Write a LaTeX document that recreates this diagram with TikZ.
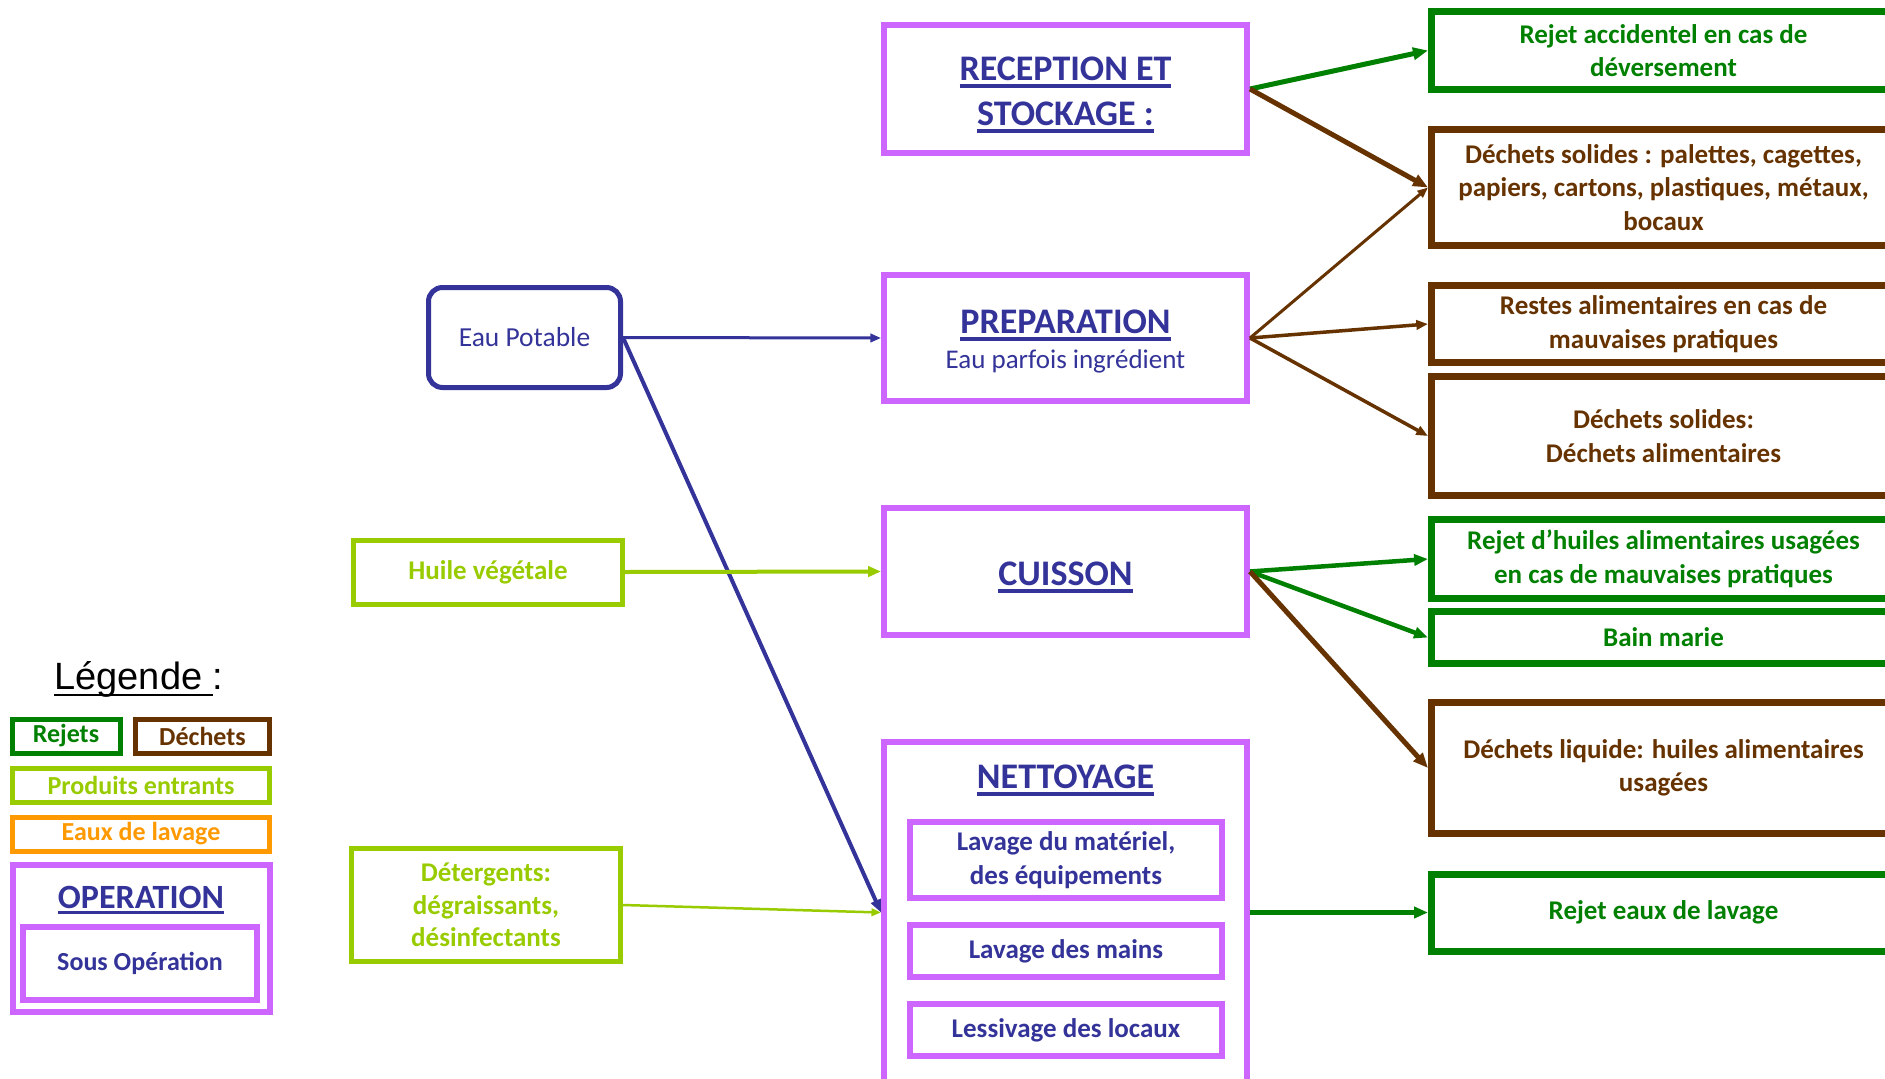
\documentclass[tikz,border=0pt]{standalone}
\usepackage{fontspec}
\setmainfont{Carlito}
\newfontfamily\arialf{Liberation Sans}
\usetikzlibrary{arrows.meta}
\definecolor{opv}{HTML}{CC66FF}
\definecolor{navy}{HTML}{333399}
\definecolor{rejg}{HTML}{008000}
\definecolor{decb}{HTML}{663300}
\definecolor{prodg}{HTML}{99CC00}
\definecolor{eauo}{HTML}{FF9900}
\newsavebox\ulbox
\newcommand\ulin[3]{\sbox\ulbox{#3}\leavevmode\rlap{\rule[-#2]{\wd\ulbox}{#1}}\usebox\ulbox}
\newcommand\fsz[2]{\fontsize{#1}{#2}\selectfont}
\begin{document}
\begin{tikzpicture}[x=1pt,y=-1pt,
  box/.style={draw, rectangle, inner sep=0pt, align=center, font=\bfseries\fsz{27}{33.5}},
  opbox/.style={box, draw=opv, line width=6pt, minimum width=363pt},
  rejbox/.style={box, draw=rejg, text=rejg, line width=7pt, minimum width=464pt},
  decbox/.style={box, draw=decb, text=decb, line width=7pt, minimum width=464pt},
  prodbox/.style={box, draw=prodg, text=prodg, line width=5pt},
  subbox/.style={box, draw=opv, text=navy, line width=6pt, minimum width=312pt},
  lgbox/.style={box, line width=5pt, font=\bfseries\fsz{26}{31}},
  ttl/.style={anchor=base, text=navy, font=\bfseries\fsz{36}{44}, inner sep=0pt},
  arr/.style={-{Triangle[length=4pt 2.2,width=3pt 1.8]}}
]
\path[fill=white] (0,0) rectangle (1885,1079);
\useasboundingbox (0,0) rectangle (1885,1079);

% operations
\node[opbox, minimum height=128pt] (rec) at (1065.5,89) {};
\node[ttl] (rect1) at (1065.5,80) {\ulin{4pt}{8pt}{RECEPTION ET}};
\node[ttl] (rect2) at (1065.5,125) {\ulin{4pt}{8pt}{STOCKAGE :}};

\node[opbox, minimum height=126pt] (prep) at (1065.5,338) {};
\node[ttl] (prept) at (1065.5,333) {\ulin{4pt}{8pt}{PREPARATION}};
\node[anchor=base, text=navy, font=\fsz{27}{33}, inner sep=0pt] (preps) at (1065.5,368) {Eau parfois ingrédient};

\node[opbox, minimum height=127pt] (cui) at (1065.5,571.5) {};
\node[ttl] (cuit) at (1065.5,585) {\ulin{4pt}{8pt}{CUISSON}};

\node[opbox, minimum height=341pt] (net) at (1065.5,912.5) {};
\node[ttl] (nett) at (1065.5,788) {\ulin{4pt}{8pt}{NETTOYAGE}};
\node[subbox, minimum height=76pt] (sub1) at (1066,860) {Lavage du matériel,\\des équipements};
\node[subbox, minimum height=52pt] (sub2) at (1066,951) {Lavage des mains};
\node[subbox, minimum height=52pt] (sub3) at (1066,1030) {Lessivage des locaux};

% inputs
\node[draw=navy, line width=5pt, rounded corners=14pt, minimum width=192pt, minimum height=100pt, inner sep=0pt, text=navy, font=\fsz{27.5}{33}] (eau) at (524.5,337.5) {Eau Potable};
\node[prodbox, minimum width=269pt, minimum height=64pt] (huile) at (488,572) {Huile végétale};
\node[prodbox, minimum width=269pt, minimum height=113pt, font=\bfseries\fsz{27}{32.5}] (det) at (486,905) {Détergents:\\dégraissants,\\désinfectants};

% outputs
\node[rejbox, minimum height=78pt] (rej1) at (1663.5,50.5) {Rejet accidentel en cas de\\déversement};
\node[decbox, minimum height=116pt] (dec1) at (1663.5,187.5) {Déchets solides : palettes, cagettes,\\papiers, cartons, plastiques, métaux,\\bocaux};
\node[decbox, minimum height=77pt] (dec2) at (1663.5,324) {Restes alimentaires en cas de\\mauvaises pratiques};
\node[decbox, minimum height=119pt] (dec3) at (1663.5,436) {Déchets solides:\\Déchets alimentaires};
\node[rejbox, minimum height=79pt] (rej2) at (1663.5,559) {Rejet d’huiles alimentaires usagées\\en cas de mauvaises pratiques};
\node[rejbox, minimum height=52pt] (rej3) at (1663.5,637.5) {Bain marie};
\node[decbox, minimum height=131pt] (dec4) at (1663.5,768) {Déchets liquide: huiles alimentaires\\usagées};
\node[rejbox, minimum height=77pt] (rej4) at (1663.5,912.5) {Rejet eaux de lavage};

% connectors
\draw[arr, rejg, line width=5pt] (rec.east) -- (rej1.west);
\draw[arr, decb, line width=5pt] (rec.east) -- (dec1.west);
\draw[arr, decb, line width=3pt] (prep.east) -- (dec1.west);
\draw[arr, decb, line width=3.5pt] (prep.east) -- (dec2.west);
\draw[arr, decb, line width=3.5pt] (prep.east) -- (dec3.west);
\draw[arr, rejg, line width=4.5pt] (cui.east) -- (rej2.west);
\draw[arr, rejg, line width=4.5pt] (cui.east) -- (rej3.west);
\draw[arr, decb, line width=5pt] (cui.east) -- (dec4.west);
\draw[arr, rejg, line width=4.5pt] (net.east) -- (rej4.west);
\draw[arr, navy, line width=3pt] (eau.east) -- (prep.west);
\draw[arr, navy, line width=4pt] (eau.east) -- (net.west);
\draw[arr, prodg, line width=4pt] (huile.east) -- (cui.west);
\draw[arr, prodg, line width=2.5pt] (det.east) -- (net.west);

% legend
\node[anchor=base, inner sep=0pt, font=\arialf\fsz{38}{44}] (leg) at (139,689) {\ulin{2.5pt}{7pt}{Légende }:};
\node[lgbox, draw=rejg, text=rejg, minimum width=108pt, minimum height=34pt] (lrej) at (66,736) {Rejets};
\node[lgbox, draw=decb, text=decb, minimum width=134pt, minimum height=34pt] (ldec) at (202.5,736) {Déchets};
\node[lgbox, draw=prodg, text=prodg, minimum width=257pt, minimum height=34pt] (lprod) at (141,785) {Produits entrants};
\node[lgbox, draw=eauo, text=eauo, minimum width=257pt, minimum height=34pt] (leau) at (141,834) {Eaux de lavage};
\node[lgbox, draw=opv, line width=6pt, minimum width=257pt, minimum height=147pt] (lop) at (141,938) {};
\node[anchor=base, text=navy, inner sep=0pt, font=\bfseries\fsz{34}{40}] (lopt) at (141,908) {\ulin{3pt}{6pt}{OPERATION}};
\node[lgbox, draw=opv, text=navy, line width=6pt, minimum width=234pt, minimum height=73pt] (lsub) at (140,963) {Sous Opération};
\end{tikzpicture}
\end{document}
